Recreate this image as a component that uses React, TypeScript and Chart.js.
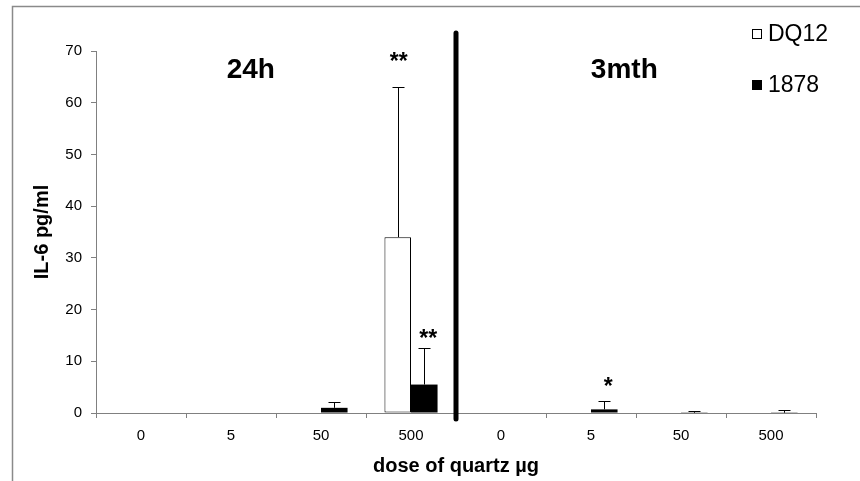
import React, { useEffect, useRef } from 'react';
import { Chart, registerables } from 'chart.js';

Chart.register(...registerables);

// ---- data ----
const categories = ['0', '5', '50', '500', '0', '5', '50', '500'];
const seriesNames = ['DQ12', '1878'];
const dq12Values = [0, 0, 0, 34, 0, 0, 0, 0];
const dq12Sd = [0, 0, 0, 29, 0, 0, 0, 0];
const values1878 = [0, 0, 1.0, 5.5, 0, 0.7, 0.05, 0.05];
const sd1878 = [0, 0, 1.1, 7, 0, 1.7, 0.4, 0.6];
const dq12Sig = ['', '', '', '**', '', '', '', ''];
const dq12SigAt = [0, 0, 0, 69.2, 0, 0, 0, 0];
const sig1878 = ['', '', '', '**', '', '*', '', ''];
const sig1878At = [0, 0, 0, 15.6, 0, 6.4, 0, 0];
const groupNames = ['24h', '3mth'];
const groupLabelAt = [1.22, 5.37];
const groupLabelY = 66.2;
const dividerAt = 3.5;
const dividerTop = 73.5;
const yMin = 0;
const yMax = 70;
const yStep = 10;

const FONT = '"Liberation Sans", Arial, sans-serif';

const overlay = {
  id: 'overlay',
  beforeDraw(chart: any) {
    const ctx = chart.ctx;
    ctx.save();
    ctx.fillStyle = '#ffffff';
    ctx.fillRect(0, 0, chart.width, chart.height);
    ctx.strokeStyle = '#8a8a8a';
    ctx.lineWidth = 1.5;
    ctx.beginPath();
    ctx.moveTo(12.5, chart.height);
    ctx.lineTo(12.5, 6.5);
    ctx.lineTo(chart.width, 6.5);
    ctx.stroke();
    ctx.restore();
  },
  afterDatasetsDraw(chart: any) {
    const ctx = chart.ctx;
    const xs = chart.scales.x;
    const ys = chart.scales.y;
    const area = chart.chartArea;
    ctx.save();

    // error bars
    const sds = [dq12Sd, sd1878];
    const vals = [dq12Values, values1878];
    ctx.strokeStyle = '#000';
    ctx.lineWidth = 1;
    for (let d = 0; d < 2; d++) {
      const meta = chart.getDatasetMeta(d);
      meta.data.forEach((bar: any, i: number) => {
        const sd = sds[d][i];
        if (!sd) return;
        const x = Math.round(bar.x) + 0.5;
        const y0 = ys.getPixelForValue(vals[d][i]);
        const y1 = Math.round(ys.getPixelForValue(vals[d][i] + sd)) + 0.5;
        ctx.beginPath();
        ctx.moveTo(x, y0);
        ctx.lineTo(x, y1);
        ctx.moveTo(x - 6, y1);
        ctx.lineTo(x + 6, y1);
        ctx.stroke();
      });
    }

    // significance stars
    const sigs = [dq12Sig, sig1878];
    const sigAt = [dq12SigAt, sig1878At];
    const sigShift = [1, 4];
    ctx.fillStyle = '#000';
    ctx.font = `bold 23px ${FONT}`;
    ctx.textAlign = 'center';
    ctx.textBaseline = 'alphabetic';
    for (let d = 0; d < 2; d++) {
      const meta = chart.getDatasetMeta(d);
      meta.data.forEach((bar: any, i: number) => {
        const s = sigs[d][i];
        if (!s) return;
        const y = ys.getPixelForValue(sigAt[d][i]);
        ctx.fillText(s, bar.x + sigShift[d], y + 14);
      });
    }

    // divider
    const dx = xs.getPixelForValue(dividerAt);
    ctx.strokeStyle = '#000';
    ctx.lineWidth = 5;
    ctx.lineCap = 'round';
    ctx.beginPath();
    ctx.moveTo(dx, ys.getPixelForValue(dividerTop));
    ctx.lineTo(dx, area.bottom + 6);
    ctx.stroke();

    // group labels
    ctx.font = `bold 28px ${FONT}`;
    ctx.textBaseline = 'middle';
    groupNames.forEach((g, i) => {
      ctx.fillText(g, xs.getPixelForValue(groupLabelAt[i]), ys.getPixelForValue(groupLabelY));
    });

    // legend
    const colors = ['#ffffff', '#000000'];
    ctx.font = `23px ${FONT}`;
    ctx.textAlign = 'left';
    ctx.textBaseline = 'middle';
    seriesNames.forEach((n, i) => {
      const bx = area.right - 64;
      const cy = area.top - 17 + i * 51;
      ctx.fillStyle = colors[i];
      ctx.fillRect(bx, cy - 5, 10, 10);
      ctx.strokeStyle = '#000';
      ctx.lineWidth = 1;
      ctx.strokeRect(bx + 0.5, cy - 4.5, 9, 9);
      ctx.fillStyle = '#000';
      ctx.fillText(n, bx + 16, cy + 1);
    });

    ctx.restore();
  },
};

export default function App() {
  const ref = useRef<HTMLCanvasElement>(null);
  useEffect(() => {
    const chart = new Chart(ref.current as HTMLCanvasElement, {
      type: 'bar',
      data: {
        labels: categories,
        datasets: [
          {
            label: seriesNames[0],
            data: dq12Values,
            backgroundColor: '#ffffff',
            borderColor: '#000000',
            borderWidth: 1,
            borderSkipped: false,
          },
          {
            label: seriesNames[1],
            data: values1878,
            backgroundColor: '#000000',
            borderColor: '#000000',
            borderWidth: 0,
          },
        ],
      },
      options: {
        responsive: false,
        devicePixelRatio: 1,
        animation: false,
        events: [],
        layout: { padding: { left: 0, top: 51, right: 44, bottom: 0 } },
        datasets: { bar: { categoryPercentage: 0.59, barPercentage: 1.0 } },
        plugins: { legend: { display: false }, tooltip: { enabled: false }, title: { display: false } },
        scales: {
          x: {
            offset: true,
            grid: { display: true, drawOnChartArea: false, drawTicks: true, tickLength: 5, color: '#808080', offset: true },
            border: { display: true, color: '#808080', width: 1 },
            ticks: { color: '#000', font: { family: FONT, size: 15 }, padding: 9, maxRotation: 0 },
            title: {
              display: true,
              text: 'dose of quartz µg',
              color: '#000',
              font: { family: FONT, size: 20, weight: 'bold' },
              padding: { top: 0, bottom: 3 },
            },
            afterFit: (s: any) => { s.height = 68; },
          },
          y: {
            min: yMin,
            max: yMax,
            grid: { display: true, drawOnChartArea: false, drawTicks: true, tickLength: 5, color: '#808080' },
            border: { display: true, color: '#808080', width: 1 },
            ticks: { stepSize: yStep, color: '#000', font: { family: FONT, size: 15 }, padding: 9 },
            title: {
              display: true,
              text: 'IL-6 pg/ml',
              color: '#000',
              font: { family: FONT, size: 20, weight: 'bold' },
              padding: { top: 30, bottom: 0 },
            },
            afterFit: (s: any) => { s.width = 96; },
          },
        },
      },
      plugins: [overlay],
    } as any);
    return () => chart.destroy();
  }, []);
  return (
    <div style={{ position: 'fixed', left: 0, top: 0, width: 860, height: 481, background: '#fff' }}>
      <canvas ref={ref} width={860} height={481} style={{ display: 'block', width: 860, height: 481 }} />
    </div>
  );
}
